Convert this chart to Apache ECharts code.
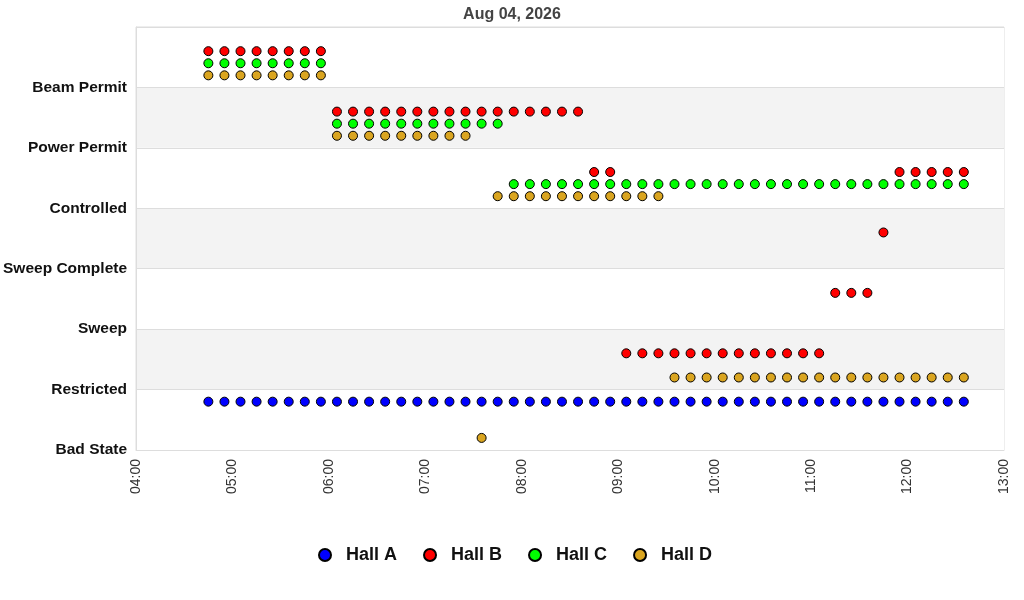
<!DOCTYPE html>
<html>
<head>
<meta charset="utf-8">
<script src="https://cdn.jsdelivr.net/npm/echarts@6/dist/echarts.min.js"></script>
<style>
html,body{margin:0;padding:0;background:#fff;}
#chart{width:1024px;height:600px;}
</style>
</head>
<body>
<div id="chart"></div>
<script>
var chartDate = '2026-08-04';
var titleText = 'Aug 04, 2026';
var states = ['Bad State', 'Restricted', 'Sweep', 'Sweep Complete', 'Controlled', 'Power Permit', 'Beam Permit'];
var xTickStart = '04:00';
var xTickEnd = '13:00';

var hallA = [
  ['04:45','Restricted'],['04:55','Restricted'],['05:05','Restricted'],['05:15','Restricted'],
  ['05:25','Restricted'],['05:35','Restricted'],['05:45','Restricted'],['05:55','Restricted'],
  ['06:05','Restricted'],['06:15','Restricted'],['06:25','Restricted'],['06:35','Restricted'],
  ['06:45','Restricted'],['06:55','Restricted'],['07:05','Restricted'],['07:15','Restricted'],
  ['07:25','Restricted'],['07:35','Restricted'],['07:45','Restricted'],['07:55','Restricted'],
  ['08:05','Restricted'],['08:15','Restricted'],['08:25','Restricted'],['08:35','Restricted'],
  ['08:45','Restricted'],['08:55','Restricted'],['09:05','Restricted'],['09:15','Restricted'],
  ['09:25','Restricted'],['09:35','Restricted'],['09:45','Restricted'],['09:55','Restricted'],
  ['10:05','Restricted'],['10:15','Restricted'],['10:25','Restricted'],['10:35','Restricted'],
  ['10:45','Restricted'],['10:55','Restricted'],['11:05','Restricted'],['11:15','Restricted'],
  ['11:25','Restricted'],['11:35','Restricted'],['11:45','Restricted'],['11:55','Restricted'],
  ['12:05','Restricted'],['12:15','Restricted'],['12:25','Restricted'],['12:35','Restricted']
];

var hallB = [
  ['04:45','Beam Permit'],['04:55','Beam Permit'],['05:05','Beam Permit'],['05:15','Beam Permit'],
  ['05:25','Beam Permit'],['05:35','Beam Permit'],['05:45','Beam Permit'],['05:55','Beam Permit'],
  ['06:05','Power Permit'],['06:15','Power Permit'],['06:25','Power Permit'],['06:35','Power Permit'],
  ['06:45','Power Permit'],['06:55','Power Permit'],['07:05','Power Permit'],['07:15','Power Permit'],
  ['07:25','Power Permit'],['07:35','Power Permit'],['07:45','Power Permit'],['07:55','Power Permit'],
  ['08:05','Power Permit'],['08:15','Power Permit'],['08:25','Power Permit'],['08:35','Power Permit'],
  ['08:45','Controlled'],['08:55','Controlled'],
  ['09:05','Restricted'],['09:15','Restricted'],['09:25','Restricted'],['09:35','Restricted'],
  ['09:45','Restricted'],['09:55','Restricted'],['10:05','Restricted'],['10:15','Restricted'],
  ['10:25','Restricted'],['10:35','Restricted'],['10:45','Restricted'],['10:55','Restricted'],
  ['11:05','Restricted'],
  ['11:15','Sweep'],['11:25','Sweep'],['11:35','Sweep'],
  ['11:45','Sweep Complete'],
  ['11:55','Controlled'],['12:05','Controlled'],['12:15','Controlled'],['12:25','Controlled'],['12:35','Controlled']
];

var hallC = [
  ['04:45','Beam Permit'],['04:55','Beam Permit'],['05:05','Beam Permit'],['05:15','Beam Permit'],
  ['05:25','Beam Permit'],['05:35','Beam Permit'],['05:45','Beam Permit'],['05:55','Beam Permit'],
  ['06:05','Power Permit'],['06:15','Power Permit'],['06:25','Power Permit'],['06:35','Power Permit'],
  ['06:45','Power Permit'],['06:55','Power Permit'],['07:05','Power Permit'],['07:15','Power Permit'],
  ['07:25','Power Permit'],['07:35','Power Permit'],['07:45','Power Permit'],
  ['07:55','Controlled'],['08:05','Controlled'],['08:15','Controlled'],['08:25','Controlled'],
  ['08:35','Controlled'],['08:45','Controlled'],['08:55','Controlled'],['09:05','Controlled'],
  ['09:15','Controlled'],['09:25','Controlled'],['09:35','Controlled'],['09:45','Controlled'],
  ['09:55','Controlled'],['10:05','Controlled'],['10:15','Controlled'],['10:25','Controlled'],
  ['10:35','Controlled'],['10:45','Controlled'],['10:55','Controlled'],['11:05','Controlled'],
  ['11:15','Controlled'],['11:25','Controlled'],['11:35','Controlled'],['11:45','Controlled'],
  ['11:55','Controlled'],['12:05','Controlled'],['12:15','Controlled'],['12:25','Controlled'],['12:35','Controlled']
];

var hallD = [
  ['04:45','Beam Permit'],['04:55','Beam Permit'],['05:05','Beam Permit'],['05:15','Beam Permit'],
  ['05:25','Beam Permit'],['05:35','Beam Permit'],['05:45','Beam Permit'],['05:55','Beam Permit'],
  ['06:05','Power Permit'],['06:15','Power Permit'],['06:25','Power Permit'],['06:35','Power Permit'],
  ['06:45','Power Permit'],['06:55','Power Permit'],['07:05','Power Permit'],['07:15','Power Permit'],
  ['07:25','Power Permit'],
  ['07:35','Bad State'],
  ['07:45','Controlled'],['07:55','Controlled'],['08:05','Controlled'],['08:15','Controlled'],
  ['08:25','Controlled'],['08:35','Controlled'],['08:45','Controlled'],['08:55','Controlled'],
  ['09:05','Controlled'],['09:15','Controlled'],['09:25','Controlled'],
  ['09:35','Restricted'],['09:45','Restricted'],['09:55','Restricted'],['10:05','Restricted'],
  ['10:15','Restricted'],['10:25','Restricted'],['10:35','Restricted'],['10:45','Restricted'],
  ['10:55','Restricted'],['11:05','Restricted'],['11:15','Restricted'],['11:25','Restricted'],
  ['11:35','Restricted'],['11:45','Restricted'],['11:55','Restricted'],['12:05','Restricted'],
  ['12:15','Restricted'],['12:25','Restricted'],['12:35','Restricted']
];

var hallNames = ['Hall A', 'Hall B', 'Hall C', 'Hall D'];
var hallData = [hallA, hallB, hallC, hallD];
var hallColors = ['#0000ff', '#ff0000', '#00ff00', '#daa520'];
var hallOffsets = [-0.2, 0.6, 0.4, 0.2];

function toTime(hm) {
  return new Date(chartDate + 'T' + hm + ':00').getTime();
}
function pad(n) { return (n < 10 ? '0' : '') + n; }

var series = hallNames.map(function (name, i) {
  return {
    name: name,
    type: 'scatter',
    symbol: 'circle',
    symbolSize: 9,
    itemStyle: { color: hallColors[i], borderColor: '#000', borderWidth: 1, opacity: 1 },
    emphasis: { disabled: true },
    data: hallData[i].map(function (p) {
      return [toTime(p[0]), states.indexOf(p[1]) + hallOffsets[i]];
    })
  };
});

var chart = echarts.init(document.getElementById('chart'));
chart.setOption({
  animation: false,
  backgroundColor: '#fff',
  title: {
    text: titleText,
    left: 'center',
    top: 2,
    textStyle: { fontFamily: 'Liberation Sans, Arial, sans-serif', fontSize: 16, fontWeight: 'bold', color: '#444' }
  },
  grid: {
    left: 136, right: 20, top: 27, bottom: 150,
    show: true, borderColor: '#dddddd', borderWidth: 1, backgroundColor: 'transparent'
  },
  legend: {
    data: hallNames,
    bottom: 31,
    left: 313,
    icon: 'circle',
    itemWidth: 12,
    itemHeight: 12,
    itemGap: 26,
    textStyle: {
      fontFamily: 'Liberation Sans, Arial, sans-serif',
      fontSize: 18, fontWeight: 'bold', color: '#111',
      padding: [0, 0, 0, 10]
    }
  },
  xAxis: {
    type: 'time',
    min: toTime(xTickStart),
    max: toTime(xTickEnd),
    interval: 3600 * 1000,
    minInterval: 3600 * 1000,
    maxInterval: 3600 * 1000,
    axisLine: { show: true, lineStyle: { color: '#dddddd' } },
    axisTick: { show: false },
    splitLine: { show: false },
    axisLabel: {
      rotate: 90,
      margin: 9,
      showMinLabel: true,
      showMaxLabel: true,
      hideOverlap: false,
      fontFamily: 'Liberation Sans, Arial, sans-serif',
      fontSize: 14,
      color: '#333',
      formatter: function (v) {
        var d = new Date(v);
        return pad(d.getHours()) + ':' + pad(d.getMinutes());
      }
    }
  },
  yAxis: {
    type: 'value',
    min: 0,
    max: 7,
    interval: 1,
    axisLine: { show: true, lineStyle: { color: '#dddddd' } },
    axisTick: { show: false },
    splitLine: { show: true, lineStyle: { color: '#dddddd' } },
    splitArea: { show: true, areaStyle: { color: ['#ffffff', '#f3f3f3'] } },
    axisLabel: {
      margin: 9,
      padding: [3, 0, 0, 0],
      fontFamily: 'Liberation Sans, Arial, sans-serif',
      fontSize: 15.5,
      fontWeight: 'bold',
      color: '#111',
      formatter: function (v) { return states[Math.round(v)] || ''; }
    }
  },
  series: series
});
</script>
</body>
</html>
